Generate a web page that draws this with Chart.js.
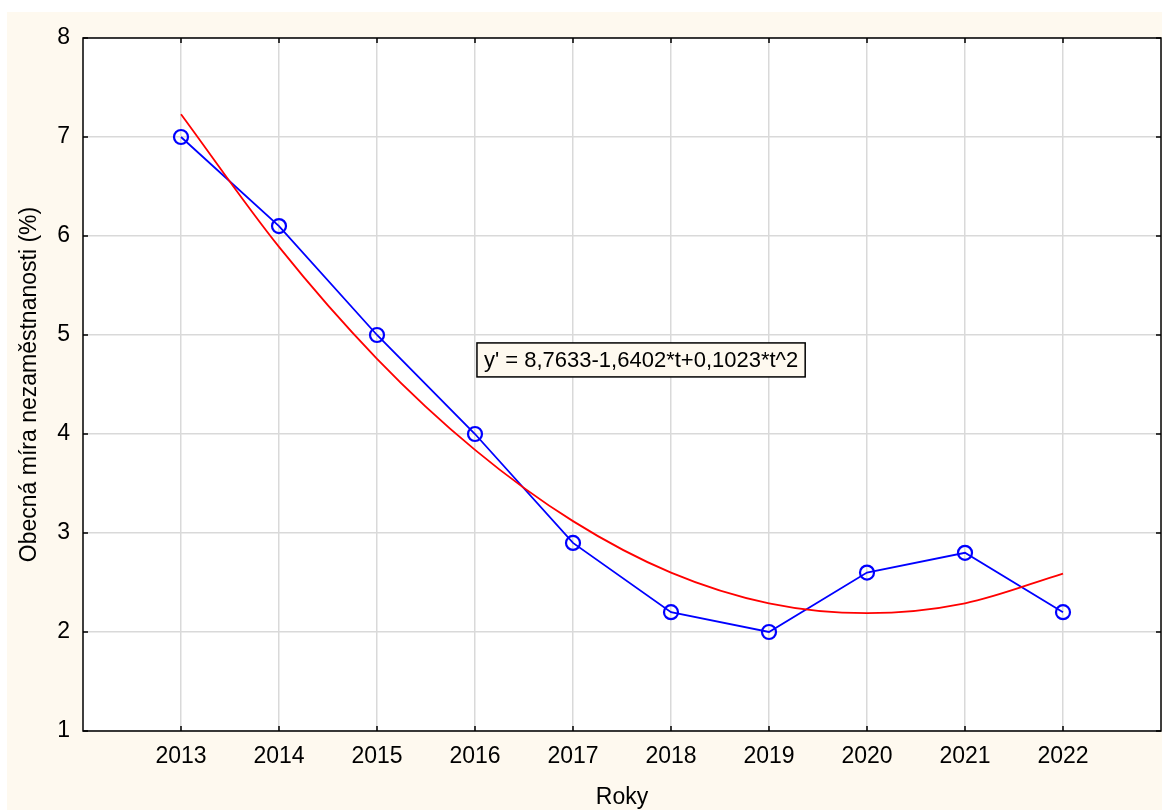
<!DOCTYPE html>
<html>
<head>
<meta charset="utf-8">
<script src="https://cdn.jsdelivr.net/npm/chart.js@4/dist/chart.umd.min.js"></script>
<style>
  html, body { margin: 0; padding: 0; background: #ffffff; }
  #wrap { position: absolute; left: 7px; top: 12px; width: 1155px; height: 798px; }
  #chart { background: #fef9ef; }
</style>
</head>
<body>
<div id="wrap"><canvas id="chart" width="1155" height="798"></canvas></div>
<script>
const years = [2013, 2014, 2015, 2016, 2017, 2018, 2019, 2020, 2021, 2022];
const unemployment = [7.0, 6.1, 5.0, 4.0, 2.9, 2.2, 2.0, 2.6, 2.8, 2.2];
// fitted trend at each year
const trend = [7.23, 5.89, 4.76, 3.84, 3.12, 2.60, 2.29, 2.19, 2.29, 2.59];
const yTicks = [1, 2, 3, 4, 5, 6, 7, 8];
const equationText = "y' = 8,7633-1,6402*t+0,1023*t^2";

const FONT = 'Liberation Sans, Arial, Helvetica, sans-serif';

const plotFrame = {
  id: 'plotFrame',
  beforeDraw(chart) {
    const {ctx, chartArea: a} = chart;
    ctx.save();
    ctx.fillStyle = '#ffffff';
    ctx.fillRect(a.left, a.top, a.right - a.left, a.bottom - a.top);
    ctx.restore();
  },
  afterDatasetsDraw(chart) {
    const {ctx, chartArea: a, scales} = chart;
    ctx.save();
    ctx.strokeStyle = '#000000';
    ctx.lineWidth = 1.5;
    ctx.strokeRect(a.left, a.top, a.right - a.left, a.bottom - a.top);
    const len = 5;
    ctx.beginPath();
    scales.x.ticks.forEach(t => {
      const px = scales.x.getPixelForValue(t.value);
      ctx.moveTo(px, a.bottom); ctx.lineTo(px, a.bottom - len);
      ctx.moveTo(px, a.top); ctx.lineTo(px, a.top + len);
    });
    scales.y.ticks.forEach(t => {
      const py = scales.y.getPixelForValue(t.value);
      ctx.moveTo(a.left, py); ctx.lineTo(a.left + len, py);
      ctx.moveTo(a.right, py); ctx.lineTo(a.right - len, py);
    });
    ctx.stroke();

    // equation label
    ctx.font = '22px ' + FONT;
    const w = ctx.measureText(equationText).width;
    const bx = scales.x.getPixelForValue(2016.02);
    const by = scales.y.getPixelForValue(4.92);
    const bw = w + 14, bh = 34;
    ctx.fillStyle = '#fef9ef';
    ctx.fillRect(bx, by, bw, bh);
    ctx.strokeRect(bx, by, bw, bh);
    ctx.fillStyle = '#000000';
    ctx.textBaseline = 'middle';
    ctx.fillText(equationText, bx + 7, by + bh / 2 + 1);
    ctx.restore();
  }
};

new Chart(document.getElementById('chart'), {
  type: 'line',
  data: {
    datasets: [
      {
        data: years.map((y, i) => ({x: y, y: trend[i]})),
        borderColor: '#ff0000',
        borderWidth: 1.8,
        pointRadius: 0,
        cubicInterpolationMode: 'monotone',
        fill: false,
      },
      {
        data: years.map((y, i) => ({x: y, y: unemployment[i]})),
        borderColor: '#0000ff',
        borderWidth: 1.8,
        pointRadius: 7,
        pointBorderWidth: 2.2,
        pointBorderColor: '#0000ff',
        pointBackgroundColor: 'rgba(0,0,0,0)',
        fill: false,
      },
    ],
  },
  options: {
    responsive: false,
    animation: false,
    layout: {autoPadding: false, padding: {top: 26, right: 1, left: 0, bottom: 0}},
    plugins: {
      legend: {display: false},
      tooltip: {enabled: false},
    },
    scales: {
      x: {
        type: 'linear',
        min: 2012,
        max: 2023,
        afterBuildTicks: (scale) => { scale.ticks = years.map(v => ({value: v})); },
        afterFit: (scale) => {
          scale.height = 79;
          scale.paddingLeft = 0;
          scale.paddingRight = 0;
        },
        grid: {color: '#d9d9d9', lineWidth: 1.5, drawTicks: false},
        border: {display: false},
        ticks: {
          color: '#000000',
          font: {family: FONT, size: 23},
          padding: 12,
          maxRotation: 0,
          callback: (v) => String(v),
        },
        title: {
          display: true,
          text: 'Roky',
          color: '#000000',
          font: {family: FONT, size: 23, lineHeight: 1},
          padding: {top: 0, bottom: 1},
        },
      },
      y: {
        min: 1,
        max: 8,
        afterBuildTicks: (scale) => { scale.ticks = yTicks.map(v => ({value: v})); },
        afterFit: (scale) => {
          scale.width = 76;
          scale.paddingTop = 0;
          scale.paddingBottom = 0;
        },
        grid: {color: '#d9d9d9', lineWidth: 1.5, drawTicks: false},
        border: {display: false},
        ticks: {
          color: '#000000',
          font: {family: FONT, size: 23},
          padding: 13,
        },
        title: {
          display: true,
          text: 'Obecná míra nezaměstnanosti (%)',
          color: '#000000',
          font: {family: FONT, size: 23, lineHeight: 1},
          padding: {top: 11, bottom: 0},
        },
      },
    },
  },
  plugins: [plotFrame],
});
</script>
</body>
</html>
